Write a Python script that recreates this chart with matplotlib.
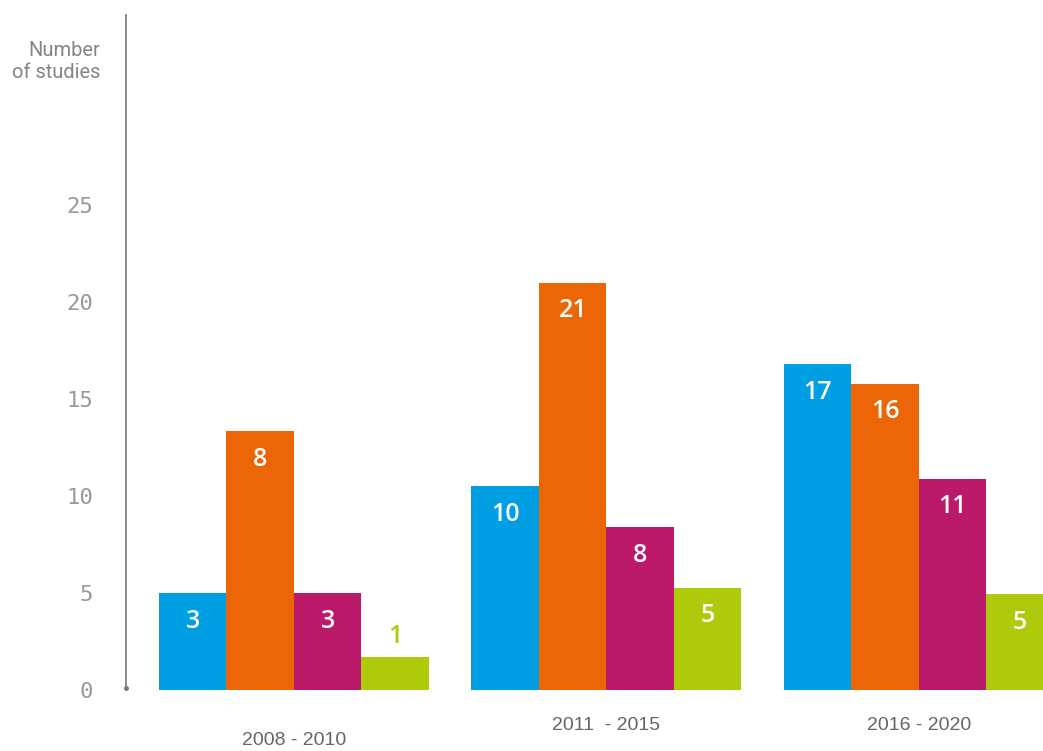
import matplotlib

matplotlib.use("Agg")
import matplotlib.pyplot as plt
import numpy as np

# periods on the x axis
periods = ["2008 - 2010", "2011  - 2015", "2016 - 2020"]

# bar heights as drawn against the y axis
blue_h = [5.0, 10.5, 16.8]
orange_h = [13.35, 21.0, 15.8]
magenta_h = [5.0, 8.4, 10.9]
green_h = [1.7, 5.26, 4.95]

# numbers printed on the bars
blue_lbl = [3, 10, 17]
orange_lbl = [8, 21, 16]
magenta_lbl = [3, 8, 11]
green_lbl = [1, 5, 5]

y_ticks = [0, 5, 10, 15, 20, 25]

colors = ["#009FE3", "#EC6608", "#BB1A6B", "#AFCA0B"]

fig = plt.figure(figsize=(10.43, 7.51), dpi=100)
ax = fig.add_axes([0.1208, 0.0812, 0.8792, 0.8988])

x = np.arange(len(periods))
w = 0.216
series = [(blue_h, blue_lbl), (orange_h, orange_lbl),
          (magenta_h, magenta_lbl), (green_h, green_lbl)]
for i, (h, lbl) in enumerate(series):
    xs = x + (i - 1.5) * w
    ax.bar(xs, h, width=w, color=colors[i], linewidth=0)
    for xi, hi, li in zip(xs, h, lbl):
        inside = hi > 3
        ax.annotate(str(li), (xi, hi), xytext=(0, -28 if inside else 21),
                    textcoords="offset pixels", ha="center", va="center",
                    color="white" if inside else colors[i],
                    fontsize=18, fontweight="semibold", family="Open Sans")

ax.set_xlim(-0.5376, 2.397)
ax.set_ylim(0, 34.8)

for s in ["top", "right", "bottom"]:
    ax.spines[s].set_visible(False)
ax.spines["left"].set_color("#777777")
ax.spines["left"].set_linewidth(1.2)
ax.plot([0], [0.1], marker="o", ms=2.5, color="#777777",
        transform=ax.get_yaxis_transform(), clip_on=False)

ax.set_yticks(y_ticks)
ax.set_yticklabels([str(v) for v in y_ticks], family="DejaVu Sans Mono",
                   fontsize=16, color="#999999")
ax.tick_params(axis="y", length=0, pad=24)
ax.set_xticks([])

for xi, p in enumerate(periods):
    yoff = -50 if xi == 0 else -35
    ax.annotate(p, (xi, 0), xytext=(0, yoff), textcoords="offset pixels",
                ha="center", va="center", fontsize=14, color="#666666",
                family=["Liberation Sans Narrow", "Liberation Sans"],
                annotation_clip=False)

fig.text(100 / 1043, 1 - 62 / 751, "Number\nof studies", ha="right",
         va="center", fontsize=14.5, color="#858585", family="Roboto",
         linespacing=1.2)

fig.savefig("out.png", dpi=100)
